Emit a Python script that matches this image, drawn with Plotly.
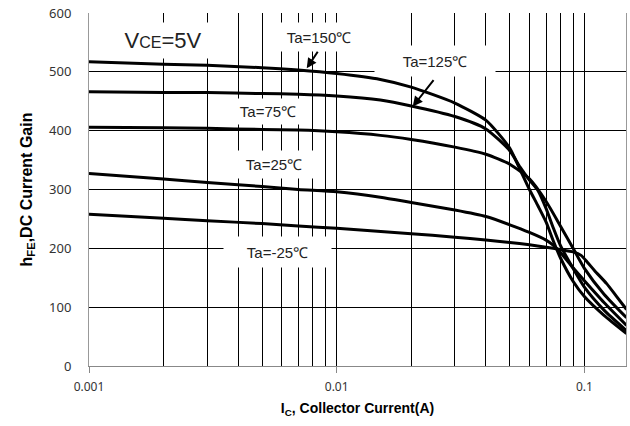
import plotly.graph_objects as go

# Collector current (A)
ic_m25 = [0.001, 0.002, 0.003, 0.005, 0.007, 0.01, 0.02, 0.03, 0.04, 0.05, 0.06, 0.07, 0.08, 0.09, 0.097, 0.103, 0.11, 0.123, 0.135, 0.148]
hfe_m25 = [258, 251, 247, 242, 238, 234, 225, 219, 214, 210, 206, 202, 198, 194, 188, 176, 162, 140, 118, 96]

ic_25 = [0.001, 0.002, 0.003, 0.005, 0.007, 0.01, 0.015, 0.02, 0.03, 0.04, 0.05, 0.06, 0.07, 0.075, 0.08, 0.09, 0.1, 0.12, 0.148]
hfe_25 = [327, 318, 312, 305, 300, 296, 287, 278, 265, 254, 240, 227, 214, 205, 193, 167, 145, 108, 69]

ic_75 = [0.001, 0.002, 0.003, 0.005, 0.007, 0.01, 0.015, 0.02, 0.03, 0.04, 0.05, 0.06, 0.07, 0.08, 0.09, 0.1, 0.12, 0.148]
hfe_75 = [406, 405, 404, 402, 401, 398, 392, 385, 372, 360, 343, 318, 280, 238, 200, 166, 122, 82]

ic_125 = [0.001, 0.002, 0.003, 0.005, 0.007, 0.01, 0.015, 0.02, 0.03, 0.04, 0.05, 0.055, 0.06, 0.065, 0.07, 0.075, 0.08, 0.09, 0.1, 0.12, 0.148]
hfe_125 = [466, 465, 465, 463, 462, 459, 452, 442, 424, 403, 366, 338, 316, 298, 268, 234, 205, 166, 134, 95, 60]

ic_150 = [0.001, 0.002, 0.003, 0.005, 0.007, 0.01, 0.015, 0.02, 0.03, 0.04, 0.045, 0.05, 0.055, 0.06, 0.065, 0.07, 0.075, 0.08, 0.09, 0.1, 0.12, 0.148]
hfe_150 = [517, 513, 511, 507, 503, 497, 487, 474, 447, 418, 395, 370, 334, 300, 272, 245, 212, 184, 144, 118, 86, 55]

series = [
    ("Ta=-25℃", ic_m25, hfe_m25),
    ("Ta=25℃", ic_25, hfe_25),
    ("Ta=75℃", ic_75, hfe_75),
    ("Ta=125℃", ic_125, hfe_125),
    ("Ta=150℃", ic_150, hfe_150),
]

x_tickvals = [0.001, 0.01, 0.1]
x_ticktext = ["0.001", "0.01", "0.1"]
y_tickvals = [0, 100, 200, 300, 400, 500, 600]

fig = go.Figure()
for name, xs, ys in series:
    fig.add_trace(go.Scatter(x=xs, y=ys, mode="lines", name=name,
                             line=dict(color="black", width=3, shape="spline", smoothing=0.6)))

lab_font = dict(family="Liberation Sans, Arial, sans-serif", size=15, color="#222")

def label(text, x, y, w, h, size=15):
    f = dict(lab_font)
    f["size"] = size
    fig.add_annotation(x=x, y=y, xref="x", yref="y", text=text, showarrow=False,
                       font=f, bgcolor="white", width=w, height=h, borderpad=0)

# labels (positions in data coords: log10(Ic), hFE)
label("V<span style='font-size:16px'>CE</span>=5V", -2.70, 554, 112, 35, size=22)
label("Ta=150℃", -2.073, 560, 104, 28)
label("Ta=125℃", -1.605, 519, 120, 30)
label("Ta=75℃", -2.278, 432, 80, 25)
label("Ta=25℃", -2.254, 342, 84, 27)
label("Ta=-25℃", -2.238, 194, 107, 30)

# arrows
fig.add_annotation(x=-2.121, y=506, xref="x", yref="y", text="", showarrow=True,
                   arrowhead=2, arrowsize=1, arrowwidth=2, arrowcolor="black", ax=12, ay=-18)
fig.add_annotation(x=-1.693, y=441, xref="x", yref="y", text="", showarrow=True,
                   arrowhead=2, arrowsize=1, arrowwidth=2, arrowcolor="black", ax=22, ay=-28)

fig.update_layout(
    width=630, height=426,
    margin=dict(l=89, r=4, t=13, b=60, autoexpand=False),
    paper_bgcolor="white", plot_bgcolor="white",
    showlegend=False,
    xaxis=dict(type="log", range=[-3, -0.832], tickmode="array", tickvals=x_tickvals, ticktext=x_ticktext,
               automargin=False,
               showgrid=True, gridcolor="black", gridwidth=1,
               minor=dict(dtick="D1", showgrid=True, gridcolor="black", gridwidth=1),
               showline=True, linecolor="#888", linewidth=1,
               ticks="outside", ticklen=6, tickcolor="#888",
               tickfont=dict(family="Noto Sans, sans-serif", size=12, color="#333"),
               ticklabelstandoff=4,
               title=dict(text="<b>I<sub>C</sub>, Collector Current(A)</b>",
                          font=dict(family="Liberation Sans, Arial, sans-serif", size=14, color="black"),
                          standoff=8),
               zeroline=False),
    yaxis=dict(range=[0, 600], tickmode="array", tickvals=y_tickvals,
               automargin=False,
               showgrid=True, gridcolor="black", gridwidth=1,
               showline=True, linecolor="#999", linewidth=1, mirror=True,
               ticks="", tickfont=dict(family="Noto Sans, sans-serif", size=13, color="#333"),
               ticklabelstandoff=14,
               title=dict(text="<b>h<sub>FE</sub>,DC Current Gain</b>",
                          font=dict(family="Liberation Sans, Arial, sans-serif", size=16, color="black"),
                          standoff=12),
               zeroline=False),
)

fig.write_html("out.html", config={"displayModeBar": False},
               post_script="document.body.style.margin='0';document.body.style.padding='0';")
